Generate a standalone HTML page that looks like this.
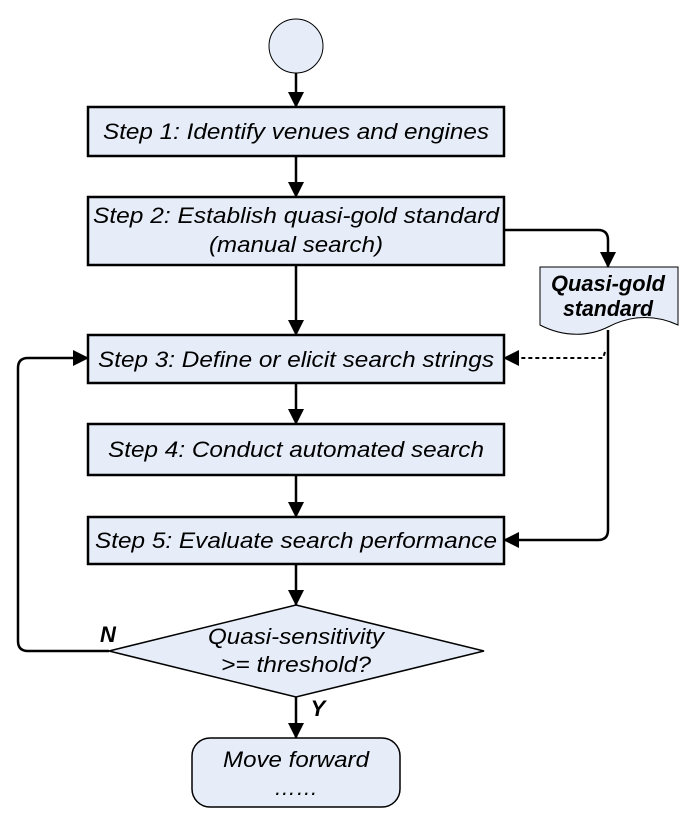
<!DOCTYPE html>
<html><head><meta charset="utf-8"><style>
html,body{margin:0;padding:0;background:#fff;}
svg{display:block;}
text{font-family:"Liberation Sans",Arial,sans-serif;font-style:italic;font-size:22px;fill:#000;}
</style></head><body>
<svg width="681" height="823" viewBox="0 0 681 823" xmlns="http://www.w3.org/2000/svg">
<defs>
<marker id="a" markerWidth="10" markerHeight="10" refX="9" refY="5" orient="auto" markerUnits="userSpaceOnUse">
<path d="M0,0 L10,5 L0,10 z" fill="#000"/></marker>
<marker id="b" markerWidth="16" markerHeight="16" refX="15" refY="8" orient="auto" markerUnits="userSpaceOnUse">
<path d="M0,0 L16,8 L0,16 z" fill="#000"/></marker>
</defs>
<g fill="#e6edf8" stroke="#000">
<ellipse cx="296" cy="46" rx="27" ry="27" stroke-width="1"/>
<rect x="88" y="107" width="416" height="49" stroke-width="2.5"/>
<rect x="88" y="197" width="416" height="68" stroke-width="2.5"/>
<rect x="88" y="335" width="416" height="48" stroke-width="2.5"/>
<rect x="88" y="424" width="416" height="51" stroke-width="2.5"/>
<rect x="88" y="517" width="416" height="47" stroke-width="2.5"/>
<path d="M296,605 L484,651 L296,697 L109,651 Z" stroke-width="1.5"/>
<rect x="192" y="738" width="208" height="69" rx="18" stroke-width="1.5"/>
<path d="M540,267 L678,267 L678,325 C650,312 625,318 608,327 C590,336 565,338 540,325 Z" stroke-width="1"/>
</g>
<g stroke="#000" stroke-width="2.5" fill="none">
<line x1="296" y1="73" x2="296" y2="107" marker-end="url(#b)"/>
<line x1="296" y1="156" x2="296" y2="197" marker-end="url(#b)"/>
<line x1="296" y1="265" x2="296" y2="335" marker-end="url(#b)"/>
<line x1="296" y1="383" x2="296" y2="424" marker-end="url(#b)"/>
<line x1="296" y1="475" x2="296" y2="517" marker-end="url(#b)"/>
<line x1="296" y1="564" x2="296" y2="605" marker-end="url(#b)"/>
<line x1="296" y1="697" x2="296" y2="738" marker-end="url(#b)"/>
<path d="M504,230 L598,230 Q608,230 608,240 L608,267" marker-end="url(#b)"/>
<path d="M608,330 L608,530 Q608,540 598,540 L504,540" marker-end="url(#b)"/>
<path d="M109,651 L28,651 Q18,651 18,641 L18,368 Q18,358 28,358 L88,358" marker-end="url(#b)"/>
<path d="M605,352 L603,358 L504,358" stroke-dasharray="4,3" stroke-width="2" marker-end="url(#b)"/>
</g>
<text x="296" y="139" text-anchor="middle" textLength="386" lengthAdjust="spacingAndGlyphs">Step 1: Identify venues and engines</text>
<text x="296" y="223" text-anchor="middle" textLength="406" lengthAdjust="spacingAndGlyphs">Step 2: Establish quasi-gold standard</text>
<text x="296" y="252" text-anchor="middle" textLength="174" lengthAdjust="spacingAndGlyphs">(manual search)</text>
<text x="296" y="367" text-anchor="middle" textLength="396" lengthAdjust="spacingAndGlyphs">Step 3: Define or elicit search strings</text>
<text x="296" y="457" text-anchor="middle" textLength="376" lengthAdjust="spacingAndGlyphs">Step 4: Conduct automated search</text>
<text x="296" y="548" text-anchor="middle" textLength="402" lengthAdjust="spacingAndGlyphs">Step 5: Evaluate search performance</text>
<text x="296" y="644" text-anchor="middle" textLength="176" lengthAdjust="spacingAndGlyphs">Quasi-sensitivity</text>
<text x="296" y="672" text-anchor="middle" textLength="150" lengthAdjust="spacingAndGlyphs">&gt;= threshold?</text>
<text x="296" y="767" text-anchor="middle" textLength="146" lengthAdjust="spacingAndGlyphs">Move forward</text>
<text x="296" y="795" text-anchor="middle">……</text>
<text x="608" y="291" text-anchor="middle" font-weight="bold" font-size="20" textLength="114" lengthAdjust="spacingAndGlyphs">Quasi-gold</text>
<text x="608" y="316" text-anchor="middle" font-weight="bold" font-size="20" textLength="90" lengthAdjust="spacingAndGlyphs">standard</text>
<text x="108" y="642" text-anchor="middle" font-weight="bold" font-size="22">N</text>
<text x="318" y="716" text-anchor="middle" font-weight="bold" font-size="22">Y</text>
</svg>
</body></html>
